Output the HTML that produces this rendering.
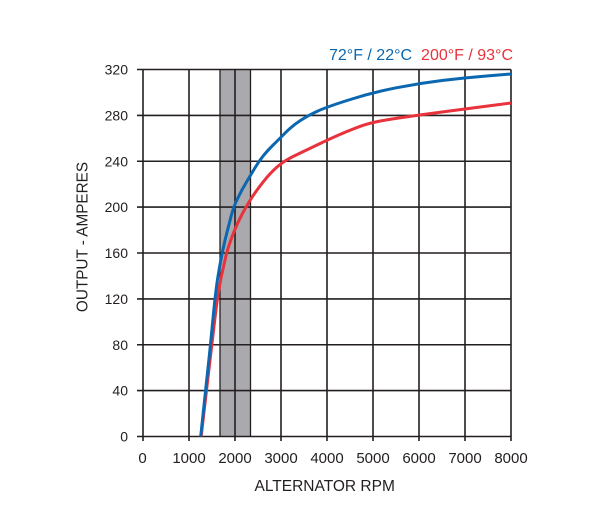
<!DOCTYPE html>
<html>
<head>
<meta charset="utf-8">
<style>
  html, body { margin: 0; padding: 0; background: #ffffff; }
  body { width: 610px; height: 509px; overflow: hidden; }
  svg { display: block; }
  text { font-family: "Liberation Sans", Arial, sans-serif; fill: #231f20; }
</style>
</head>
<body>
<svg width="610" height="509" viewBox="0 0 610 509" xmlns="http://www.w3.org/2000/svg">
  <rect x="0" y="0" width="610" height="509" fill="#ffffff"/>

  <!-- shaded band -->
  <rect x="220" y="69.5" width="30.5" height="367" fill="#aaa9ae"/>

  <!-- grid -->
  <g stroke="#231f20" stroke-width="1.6" fill="none">
    <line x1="143" y1="69.5" x2="143" y2="441"/>
    <line x1="189" y1="69.5" x2="189" y2="441"/>
    <line x1="235" y1="69.5" x2="235" y2="441"/>
    <line x1="281" y1="69.5" x2="281" y2="441"/>
    <line x1="327" y1="69.5" x2="327" y2="441"/>
    <line x1="373" y1="69.5" x2="373" y2="441"/>
    <line x1="419" y1="69.5" x2="419" y2="441"/>
    <line x1="465" y1="69.5" x2="465" y2="441"/>
    <line x1="511" y1="69.5" x2="511" y2="441"/>
    <line x1="220" y1="69.5" x2="220" y2="436.5" stroke-width="1.3"/>
    <line x1="250.5" y1="69.5" x2="250.5" y2="436.5" stroke-width="1.3"/>
    <line x1="137" y1="69.5" x2="511" y2="69.5"/>
    <line x1="137" y1="115.4" x2="511" y2="115.4"/>
    <line x1="137" y1="161.25" x2="511" y2="161.25"/>
    <line x1="137" y1="207.1" x2="511" y2="207.1"/>
    <line x1="137" y1="253" x2="511" y2="253"/>
    <line x1="137" y1="298.9" x2="511" y2="298.9"/>
    <line x1="137" y1="344.75" x2="511" y2="344.75"/>
    <line x1="137" y1="390.6" x2="511" y2="390.6"/>
    <line x1="137" y1="436.5" x2="511" y2="436.5"/>
  </g>

  <!-- red curve (200F) -->
  <path fill="none" stroke="#e8323c" stroke-width="3" stroke-linejoin="round" stroke-linecap="butt"
    d="M201.2 436.5 L203.85 413.25
       Q206.5 390 209.15 367.5
       Q211.8 345 215.05 317.5
       Q218.3 290 221.65 275
       Q225 260 225.85 256.35
       Q226.7 252.7 228.7 246.35
       Q230.7 240 234 231.65
       Q237.3 223.3 241.65 215
       Q246 206.7 251.35 198.35
       Q256.7 190 263.35 181.65
       Q270 173.3 277 167
       Q284 160.7 295.35 155.35
       Q306.7 150 317 145
       Q327.3 140 338.65 135
       Q350 130 361.65 125.85
       Q373.3 121.7 396.15 118.35
       Q419 115 442 112
       Q465 109 488 106
       L511 103"/>

  <!-- blue curve (72F) -->
  <path fill="none" stroke="#0a67b0" stroke-width="3" stroke-linejoin="round" stroke-linecap="butt"
    d="M200.7 436.5 L203.15 413.25
       Q205.6 390 208.05 367.5
       Q210.5 345 213.1 317.5
       Q215.7 290 218.2 275
       Q220.7 260 222.85 250
       Q225 240 227.15 231.65
       Q229.3 223.3 231.4 215.15
       Q233.5 207 237.6 198.5
       Q241.7 190 246.7 181.65
       Q251.7 173.3 255.5 167
       Q259.3 160.7 263.65 155.35
       Q268 150 273.15 145
       Q278.3 140 285.15 133
       Q292 126 300 120.75
       Q308 115.5 317.65 111.1
       Q327.3 106.7 350.3 99.5
       Q373.3 92.3 396.15 87.8
       Q419 83.3 442 80.5
       Q465 77.7 488 75.85
       L511 74"/>

  <!-- y tick labels -->
  <g font-size="14" text-anchor="end">
    <text x="128" y="74.5">320</text>
    <text x="128" y="120.4">280</text>
    <text x="128" y="166.25">240</text>
    <text x="128" y="212.1">200</text>
    <text x="128" y="258">160</text>
    <text x="128" y="303.9">120</text>
    <text x="128" y="349.75">80</text>
    <text x="128" y="395.6">40</text>
    <text x="128" y="441.5">0</text>
  </g>

  <!-- x tick labels -->
  <g font-size="15" text-anchor="middle">
    <text x="142.5" y="463">0</text>
    <text x="189" y="463">1000</text>
    <text x="235" y="463">2000</text>
    <text x="281" y="463">3000</text>
    <text x="327" y="463">4000</text>
    <text x="373" y="463">5000</text>
    <text x="419" y="463">6000</text>
    <text x="465" y="463">7000</text>
    <text x="511" y="463">8000</text>
  </g>

  <!-- axis titles -->
  <text x="324.7" y="491" font-size="15.5" text-anchor="middle">ALTERNATOR RPM</text>
  <text transform="translate(87.5,237) rotate(-90)" font-size="15.3" text-anchor="middle">OUTPUT - AMPERES</text>

  <!-- legend -->
  <text x="329" y="60" font-size="16" style="fill:#0a67b0">72°F / 22°C</text>
  <text x="513" y="60" font-size="16" text-anchor="end" style="fill:#e8323c">200°F / 93°C</text>
</svg>
</body>
</html>
